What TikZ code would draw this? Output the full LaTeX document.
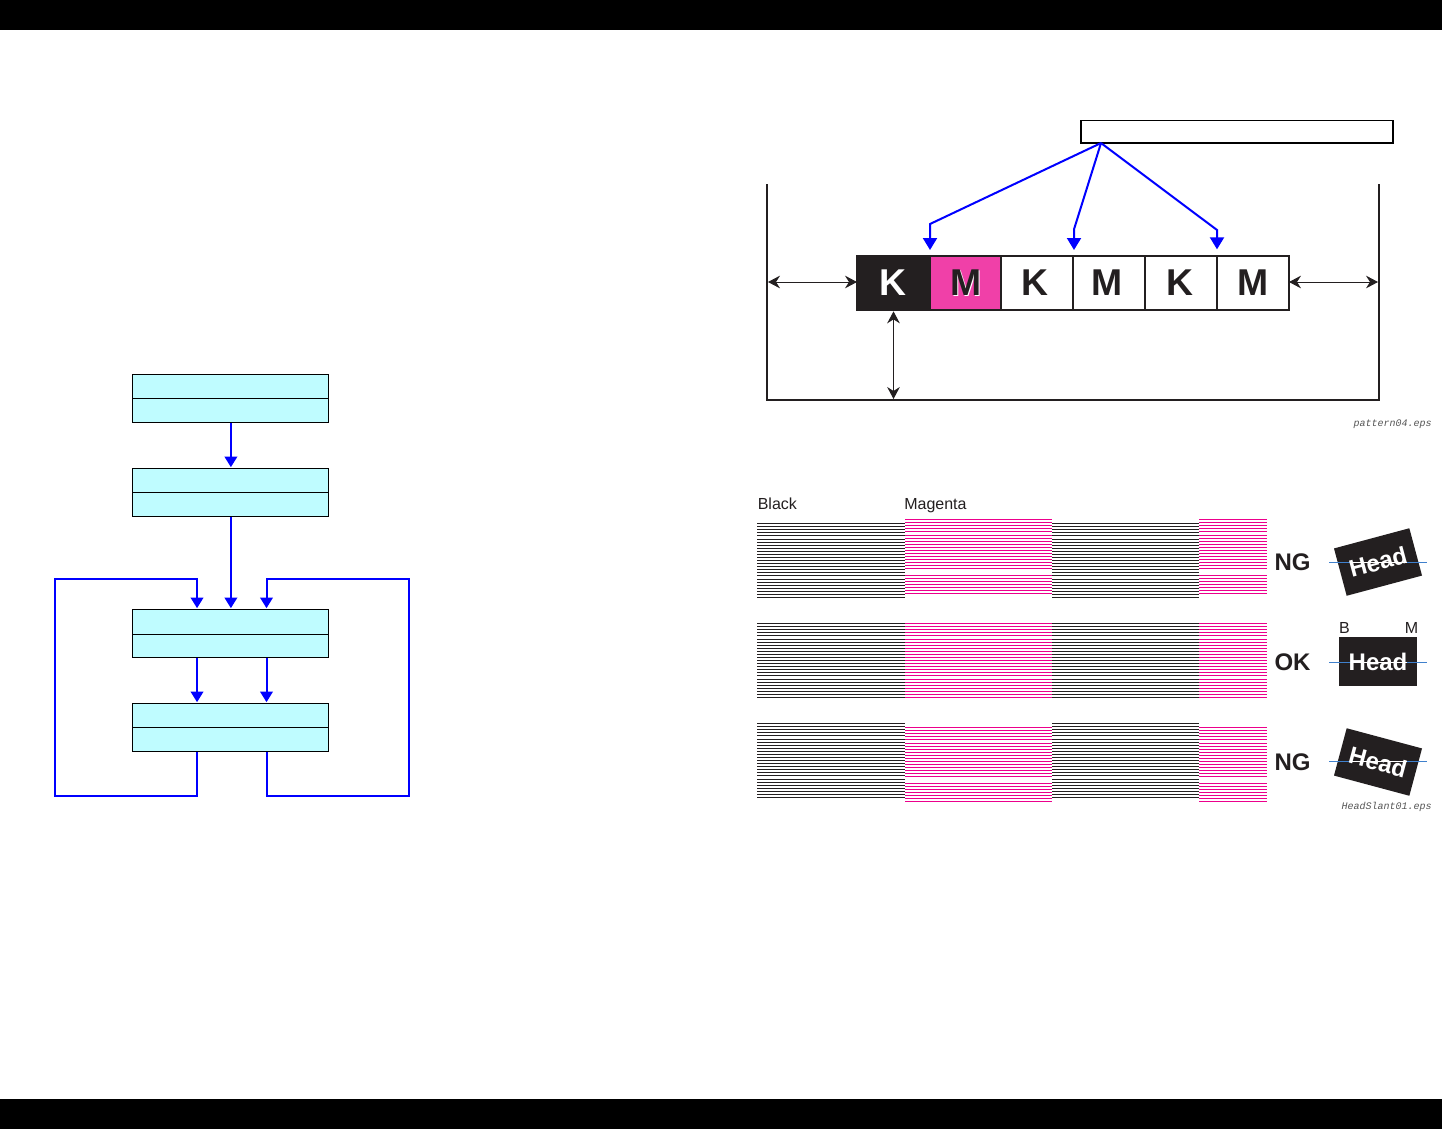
\documentclass[tikz,border=0pt]{standalone}
\usepackage{fontspec}
\setmainfont{Liberation Sans}
\newfontfamily\monofnt{Liberation Mono}
\usetikzlibrary{arrows.meta}
\definecolor{ink}{HTML}{231F20}
\definecolor{flow}{HTML}{0000FF}
\definecolor{cyanbox}{HTML}{BFFCFF}
\definecolor{pinkcell}{HTML}{F040A8}
\definecolor{magline}{HTML}{EC008C}
\definecolor{sky}{HTML}{3F80CC}
\definecolor{filegray}{HTML}{555555}
\tikzset{
  x=0.75pt,y=-0.75pt,
  half/.style={draw=black,line width=0.75pt,fill=cyanbox,inner sep=0pt,outer sep=0pt,minimum width=147pt,minimum height=#1},
  half/.default=18pt,
  flowline/.style={draw=flow,line width=1.5pt},
  flowarrow/.style={flowline,-{Triangle[width=9.5pt,length=8pt]}},
  callarrow/.style={flowline,-{Triangle[width=10.5pt,length=9pt]}},
  cell/.style={draw=ink,line width=1.4pt,inner sep=0pt,outer sep=0pt,minimum height=40.5pt},
  bigletter/.style={font=\fontsize{28}{28}\selectfont\bfseries,text=ink,inner sep=0pt},
  dim/.style={draw=ink,line width=0.75pt,{Stealth[length=9pt,width=9.5pt,inset=3pt]}-{Stealth[length=9pt,width=9.5pt,inset=3pt]}},
  plabel/.style={font=\fontsize{12}{12}\selectfont,text=ink,inner sep=0pt},
  verdict/.style={font=\fontsize{18}{18}\selectfont\bfseries,text=ink,inner sep=0pt},
  headbox/.style={fill=ink,inner sep=0pt,outer sep=0pt,minimum width=58.5pt,minimum height=36.75pt},
  headtext/.style={font=\fontsize{18}{18}\selectfont\bfseries,text=white,inner sep=0pt},
  filename/.style={font=\monofnt\itshape\fontsize{7.5}{7.5}\selectfont,text=filegray,inner sep=0pt,anchor=east},
  lvl/.style={draw=sky,line width=0.9pt},
  stripe/.style={line width=0.85pt},
}
\newcommand{\stripes}[5]{% colour, x0, x1, ytop, skip
  \foreach \o [count=\i from 0] in {0,3,6,9,12,16,19,22,25,28,31,34,37,40,43,46,49,52,56,59,62,65,68,71,74}{
    \ifnum\i=#5\relax\else
      \draw[stripe,draw=#1] (#2,#4+\o) -- (#3,#4+\o);
    \fi}}
\begin{document}
\begin{tikzpicture}
\useasboundingbox (0,0) rectangle (1442,1129);
\fill[white] (0,0) rectangle (1442,1129);
\fill[black] (0,0) rectangle (1442,30);
\fill[black] (0,1099) rectangle (1442,1129);

% flow chart
\node[half] (a1) at (230.5,386.5) {};
\node[half] (a2) at (230.5,410.5) {};
\node[half] (b1) at (230.5,480.5) {};
\node[half] (b2) at (230.5,504.5) {};
\node[half=18.75pt] (c1) at (230.5,622) {};
\node[half=17.25pt] (c2) at (230.5,646) {};
\node[half] (d1) at (230.5,715.5) {};
\node[half] (d2) at (230.5,739.5) {};
\coordinate (ll) at (55,796);
\coordinate (ul) at (55,579);
\coordinate (lr) at (409,796);
\coordinate (ur) at (409,579);
\draw[flowarrow] ([xshift=0.3pt]a2.south) -- ([xshift=0.3pt,yshift=1pt]b1.north);
\draw[flowarrow] ([xshift=0.3pt]b2.south) -- ([xshift=0.3pt,yshift=1pt]c1.north);
\draw[flowarrow] ([xshift=-25.1pt]c2.south) -- ([xshift=-25.1pt,yshift=1pt]d1.north);
\draw[flowarrow] ([xshift=27pt]c2.south) -- ([xshift=27pt,yshift=1pt]d1.north);
\draw[flowarrow] ([xshift=-25.1pt]d2.south) |- (ll) -- (ul) -| ([xshift=-25.1pt,yshift=1pt]c1.north);
\draw[flowarrow] ([xshift=27pt]d2.south) |- (lr) -- (ur) -| ([xshift=27pt,yshift=1pt]c1.north);

% pattern
\draw[ink,line width=1.4pt] (767,184) -- (767,400) -- (1379,400) -- (1379,184);
\coordinate (fl) at (768,282);
\coordinate (fr) at (1378,282);
\coordinate (fb) at (893.5,399);
\node[cell,fill=ink,minimum width=54.75pt] (k1) at (893.5,283) {};
\node[cell,fill=pinkcell,minimum width=53.25pt] (m1) at (965.5,283) {};
\node[cell,minimum width=54pt] (k2) at (1037,283) {};
\node[cell,minimum width=54pt] (m2) at (1109,283) {};
\node[cell,minimum width=54pt] (k3) at (1181,283) {};
\node[cell,minimum width=54pt] (m3) at (1253,283) {};
\draw[ink,line width=1.4pt] (k1.north west) rectangle (m3.south east);
\node[bigletter,text=white] (lk1) at (893,283) {K};
\node[bigletter,text=white] (lm1s) at (967.5,284) {M};
\node[bigletter] (lm1) at (966,283) {M};
\node[bigletter] (lk2) at (1035,283) {K};
\node[bigletter] (lm2) at (1107,283) {M};
\node[bigletter] (lk3) at (1180,283) {K};
\node[bigletter] (lm3) at (1253,283) {M};
\draw[dim] (fl) -- (k1.west |- fl);
\draw[dim] (m3.east |- fr) -- (fr);
\draw[dim] ([yshift=-1pt]k1.south) -- (fb);

\node[draw=black,line width=1.3pt,fill=white,inner sep=0pt,outer sep=0pt,minimum width=234pt,minimum height=17pt] (call) at (1237,131.7) {};
\coordinate (apex) at ([xshift=15pt]call.south west);
\draw[callarrow] (apex) -- ([yshift=24pt]k1.north east) -- ([yshift=4.5pt]k1.north east);
\draw[callarrow] (apex) -- ([xshift=0.75pt,yshift=20pt]k2.north east) -- ([xshift=0.75pt,yshift=4.5pt]k2.north east);
\draw[callarrow] (apex) -- ([yshift=19.5pt]k3.north east) -- ([yshift=5pt]k3.north east);
\node[filename] (f1) at (1432,424) {pattern04.eps};

% stripes
\node[plabel,anchor=base west] (lb) at (757.5,509) {Black};
\node[plabel,anchor=base west] (lmg) at (904,509) {Magenta};
\stripes{ink}{757}{905}{523.5}{99}
\stripes{magline}{905}{1052}{519.5}{17}
\stripes{ink}{1052}{1199}{523.5}{99}
\stripes{magline}{1199}{1267}{519.5}{17}
\stripes{ink}{757}{905}{623.5}{99}
\stripes{magline}{905}{1052}{623.5}{99}
\stripes{ink}{1052}{1199}{623.5}{99}
\stripes{magline}{1199}{1267}{623.5}{99}
\stripes{ink}{757}{905}{723.5}{99}
\stripes{magline}{905}{1052}{727.5}{17}
\stripes{ink}{1052}{1199}{723.5}{99}
\stripes{magline}{1199}{1267}{727.5}{17}

\node[verdict] (v1) at (1292.5,562) {NG};
\node[verdict] (v2) at (1292.5,662) {OK};
\node[verdict] (v3) at (1292.5,762) {NG};

\node[headbox,rotate=15] (h1) at (1378,562) {};
\node[headbox] (h2) at (1378,661.5) {};
\node[headbox,rotate=-15] (h3) at (1378,762) {};
\draw[lvl] (1329,562.5) -- (1427,562.5);
\draw[lvl] (1329,662.5) -- (1427,662.5);
\draw[lvl] (1329,761.5) -- (1427,761.5);
\draw[white,line width=0.9pt] (1351,562.5) -- (1407,562.5);
\draw[white,line width=0.9pt] (1351,662.5) -- (1407,662.5);
\draw[white,line width=0.9pt] (1351,761.5) -- (1407,761.5);
\node[headtext,rotate=15] (t1) at (1378,562) {Head};
\node[headtext] (t2) at (1378,662) {Head};
\node[headtext,rotate=-15] (t3) at (1378,762) {Head};
\node[plabel] (bb) at (1344.5,627.5) {B};
\node[plabel] (bm) at (1411.5,627.5) {M};
\node[filename] (f2) at (1432,807) {HeadSlant01.eps};
\end{tikzpicture}
\end{document}
